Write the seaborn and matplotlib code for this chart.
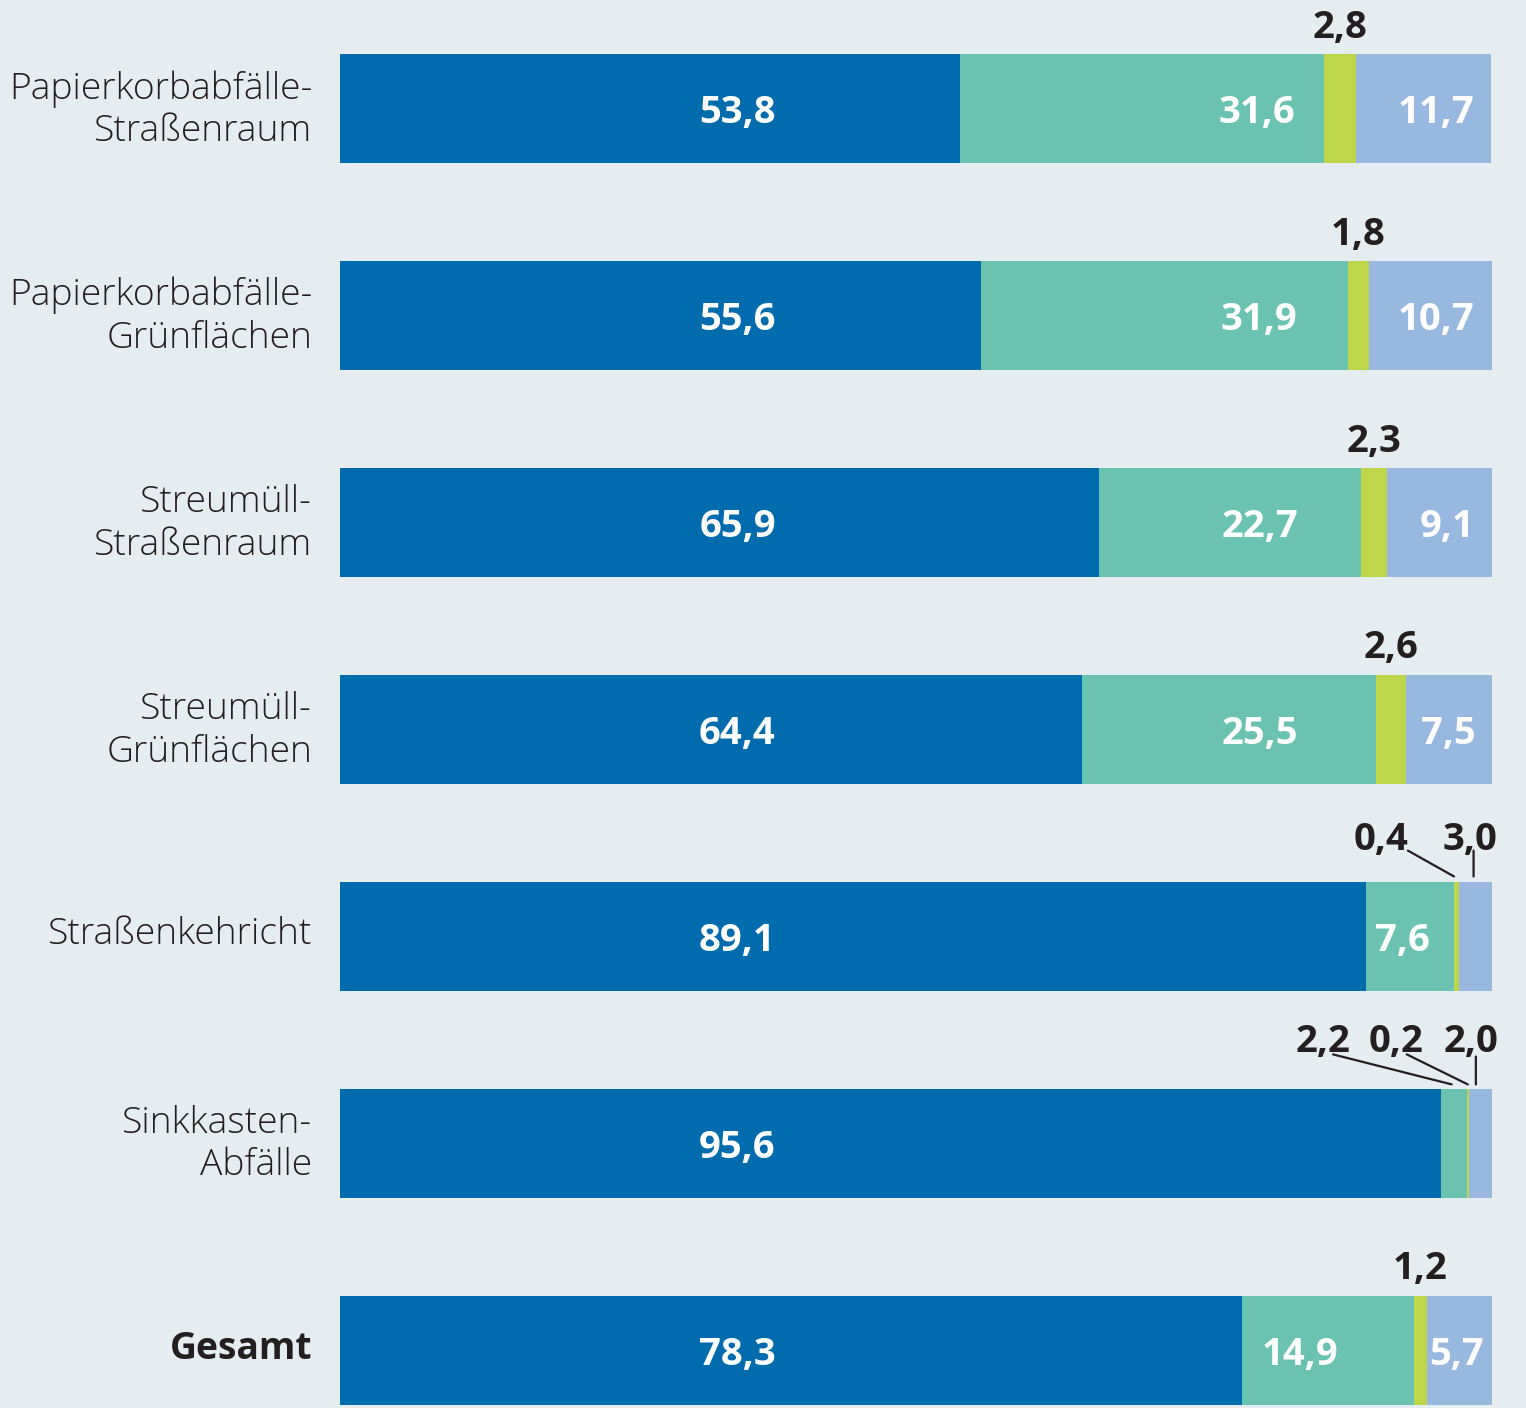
import numpy as np
import pandas as pd
import matplotlib
matplotlib.use("Agg")
import matplotlib.pyplot as plt
import matplotlib.transforms as mtransforms
import seaborn as sns

# data (percent shares per waste type)
categories = ["Papierkorbabfälle-\nStraßenraum", "Papierkorbabfälle-\nGrünflächen",
              "Streumüll-\nStraßenraum", "Streumüll-\nGrünflächen",
              "Straßenkehricht", "Sinkkasten-\nAbfälle", "Gesamt"]
seg1 = [53.8, 55.6, 65.9, 64.4, 89.1, 95.6, 78.3]
seg2 = [31.6, 31.9, 22.7, 25.5, 7.6, 2.2, 14.9]
seg3 = [2.8, 1.8, 2.3, 2.6, 0.4, 0.2, 1.2]
seg4 = [11.7, 10.7, 9.1, 7.5, 3.0, 2.0, 5.7]

colors = ["#006bad", "#6ac2b0", "#bed64a", "#99b8df"]
bg = "#e5edf0"
ink = "#231f20"

df = pd.DataFrame({"cat": categories, "s1": seg1, "s2": seg2, "s3": seg3, "s4": seg4})
df["c1"] = df["s1"]
df["c2"] = df["c1"] + df["s2"]
df["c3"] = df["c2"] + df["s3"]
df["c4"] = df["c3"] + df["s4"]

def fmt(v):
    return f"{v:.1f}".replace(".", ",")

sns.set_theme(style="white")
plt.rcParams["font.family"] = ["Open Sans", "DejaVu Sans"]

fig = plt.figure(figsize=(15.26, 14.08), dpi=100, facecolor=bg)
ax = fig.add_axes([340 / 1526, 0, 1152 / 1526, 1])
ax.set_facecolor(bg)

# stacked bars: draw cumulative totals from back to front
for col, c in zip(["c4", "c3", "c2", "c1"], colors[::-1]):
    sns.barplot(data=df, x=col, y="cat", orient="h", color=c, saturation=1,
                width=0.527, linewidth=0, ax=ax)

ax.set_xlim(0, 100)
ax.set_ylim(6.279, -0.526)
for s in ax.spines.values():
    s.set_visible(False)
ax.set_xticks([])
ax.set_xlabel("")
ax.set_ylabel("")
ax.tick_params(axis="y", length=0, pad=20)
ax.set_yticks(range(len(categories)))
ax.set_yticklabels(categories, fontsize=26.8, color=ink, linespacing=1.2,
                   fontweight="light")
ax.get_yticklabels()[-1].set_fontweight("bold")
shift = mtransforms.ScaledTranslation(0, 6 / 100, fig.dpi_scale_trans)
for lab in ax.get_yticklabels():
    lab.set_transform(lab.get_transform() + shift)

half = 0.527 / 2
vkw = dict(color="white", fontsize=27.5, fontweight="bold", va="center_baseline")
tkw = dict(color=ink, fontsize=27.5, fontweight="bold", va="center_baseline", ha="center")

# label anchors (layout only)
x1 = 34.5
x2 = [82.9, 83.1, 83.2, 83.2, 94.6, None, 86.7]
x4 = [98.5, 98.5, 98.5, 98.6, None, None, 99.3]

for i in range(len(categories)):
    ax.text(x1, i, fmt(seg1[i]), ha="center", **vkw)
    if x2[i] is not None:
        ax.text(x2[i], i, fmt(seg2[i]), ha="right", **vkw)
    if x4[i] is not None:
        ax.text(x4[i], i, fmt(seg4[i]), ha="right", **vkw)
        mid3 = df["c2"][i] + seg3[i] / 2
        ax.text(mid3, i - half - 0.15, fmt(seg3[i]), **tkw)

# leader-line labels for the narrow segments
line = dict(arrowstyle="-", color=ink, lw=1.6, shrinkA=0, shrinkB=0)
# Straßenkehricht
r = 4
ax.text(90.4, r - 0.49, fmt(seg3[r]), **tkw)
ax.annotate("", xy=(df["c2"][r] + seg3[r] / 2 - 0.2, r - 0.29), xytext=(92.7, r - 0.415),
            arrowprops=line)
ax.text(98.1, r - 0.49, fmt(seg4[r]), **tkw)
ax.annotate("", xy=(98.4, r - 0.29), xytext=(98.4, r - 0.415), arrowprops=line)
# Sinkkasten-Abfälle
r = 5
ax.text(85.3, r - 0.51, fmt(seg2[r]), **tkw)
ax.annotate("", xy=(df["c1"][r] + seg2[r] / 2 - 0.2, r - 0.285), xytext=(86.2, r - 0.43),
            arrowprops=line)
ax.text(91.7, r - 0.51, fmt(seg3[r]), **tkw)
ax.annotate("", xy=(df["c2"][r] + seg3[r] / 2, r - 0.285), xytext=(92.6, r - 0.43),
            arrowprops=line)
ax.text(98.2, r - 0.51, fmt(seg4[r]), **tkw)
ax.annotate("", xy=(98.6, r - 0.285), xytext=(98.6, r - 0.42), arrowprops=line)

fig.savefig("out.png", dpi=100, facecolor=bg)
